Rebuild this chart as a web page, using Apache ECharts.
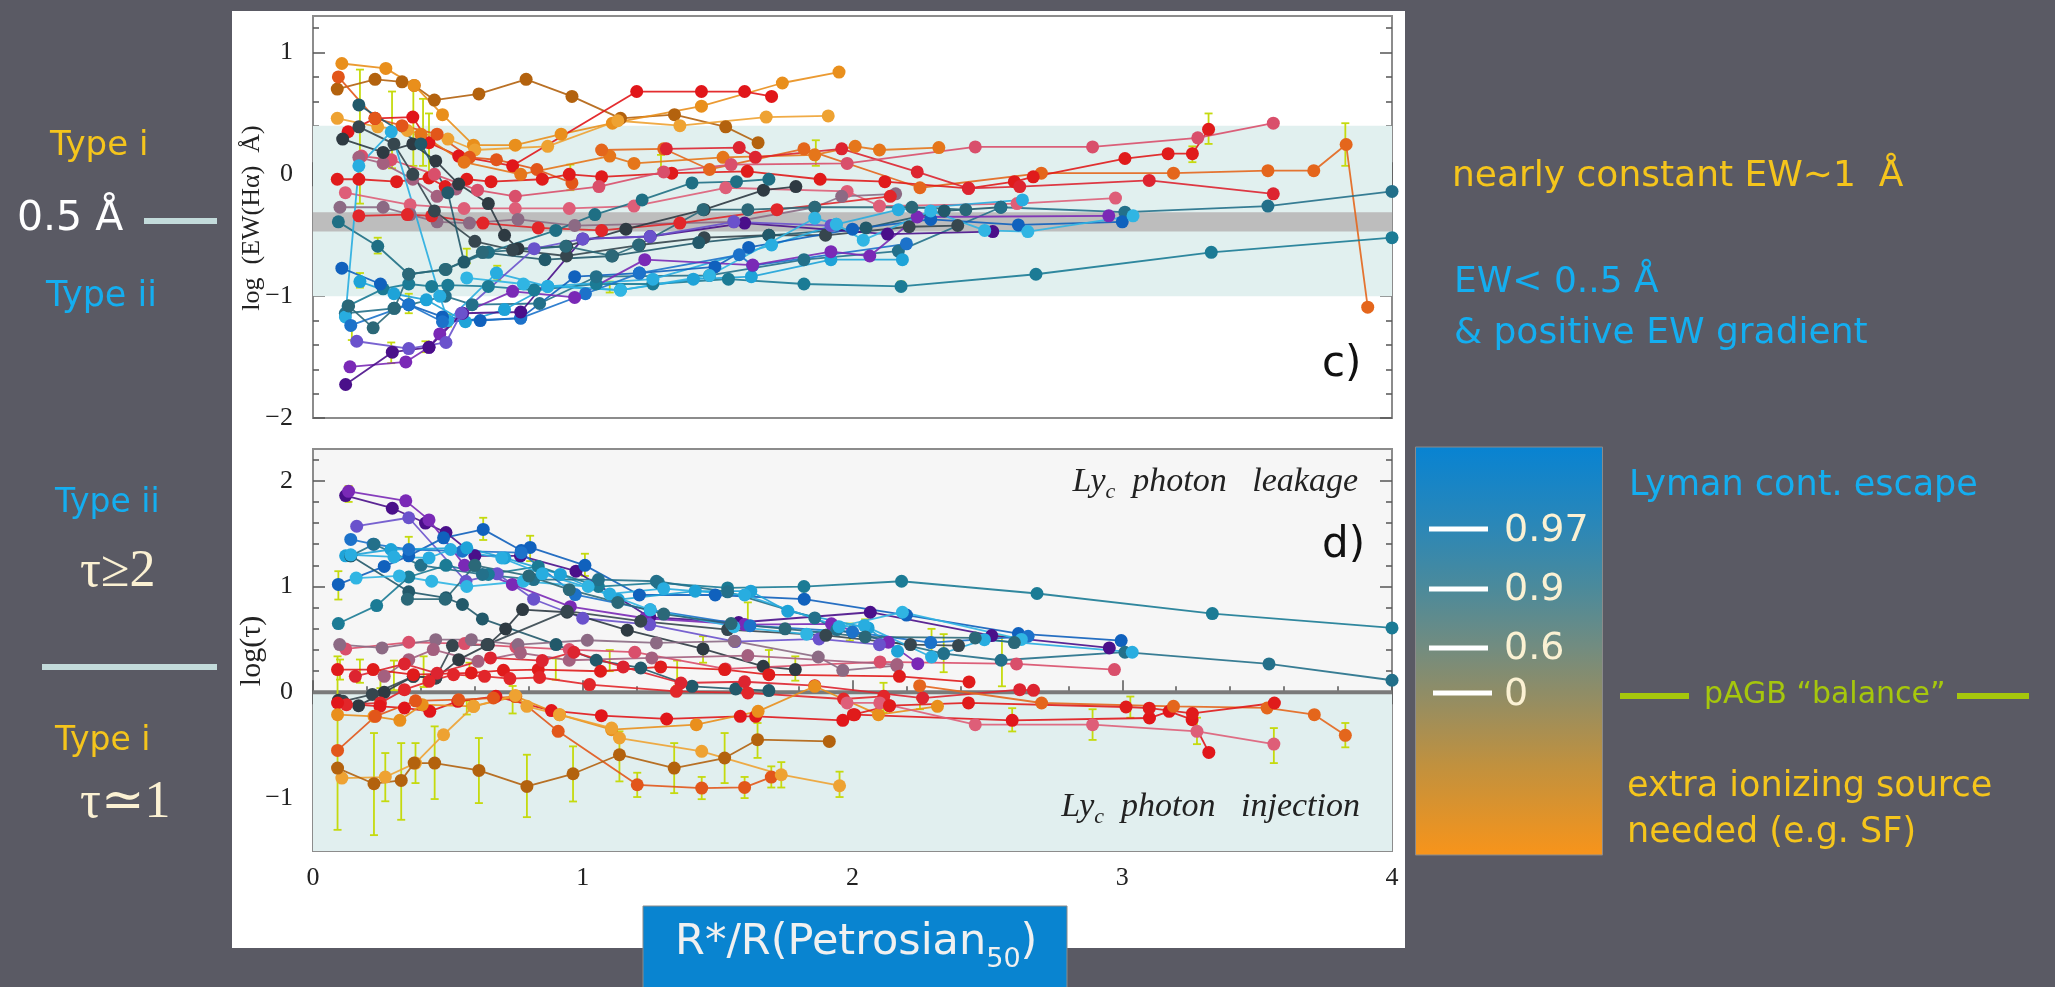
<!DOCTYPE html>
<html><head><meta charset="utf-8">
<script src="https://cdn.jsdelivr.net/npm/echarts@6/dist/echarts.min.js"></script>
<style>html,body{margin:0;padding:0;background:#5a5a64;overflow:hidden}#c{width:2055px;height:987px}</style>
</head><body><div id="c"></div>
<script>
// ---------------- DATA ----------------
// x: R*/R(Petrosian50); panel c) y: log EW(Halpha) ; panel d) y: log(tau)
const xTicks = [0, 1, 2, 3, 4];
const ewTicks = [-2, -1, 0, 1];
const tauTicks = [-1, 0, 1, 2];
const ewBands = [[0.4, -1.0], [-0.31, -0.47]];     // [top, bottom]
const tauBands = [[0, -1.5]];
const tauZero = [0];

const ew01 = [[0.09,0.70],[0.23,0.78],[0.33,0.76],[0.375,0.73],[0.45,0.61],[0.615,0.66],[0.79,0.78],[0.96,0.64],[1.14,0.46],[1.34,0.49],[1.53,0.39],[1.65,0.26]];
const ew02 = [[0.107,0.91],[0.27,0.87],[0.375,0.73],[0.48,0.49],[0.595,0.24],[0.75,0.24],[0.92,0.33],[1.11,0.42],[1.44,0.56],[1.74,0.75],[1.95,0.84]];
const ew03 = [[0.09,0.46],[0.24,0.39],[0.35,0.36],[0.50,0.29],[0.60,0.20],[0.87,0.23],[1.13,0.44],[1.36,0.40],[1.68,0.47],[1.91,0.48]];
const ew04 = [[0.13,0.35],[0.23,0.46],[0.37,0.47],[0.43,0.26],[0.54,0.15],[0.74,0.07],[1.20,0.68],[1.44,0.68],[1.60,0.68],[1.70,0.64]];
const ew05 = [[0.094,0.80],[0.23,0.46],[0.33,0.40],[0.46,0.33],[0.58,0.14],[0.68,0.12],[0.83,0.04],[0.96,-0.07]];
const ew06 = [[0.40,0.33],[0.56,0.10],[0.77,0.00],[1.10,0.15],[1.19,0.09],[1.52,0.14],[1.86,0.16],[2.01,0.23],[2.10,0.20],[2.32,0.22]];
const ew07 = [[1.07,0.20],[1.30,0.21],[1.47,0.04],[1.82,0.21],[2.25,-0.11],[2.70,0.01],[3.19,0.01],[3.54,0.03],[3.71,0.03],[3.83,0.245],[3.91,-1.09]];
const ew08 = [[0.09,-0.04],[0.17,-0.04],[0.31,-0.06],[0.43,-0.03],[0.49,-0.10],[0.57,-0.04],[0.66,-0.06],[0.85,-0.04],[0.95,0.00],[1.07,-0.02],[1.33,0.01],[1.61,0.025],[1.88,-0.04],[2.12,-0.06],[2.43,-0.115],[2.60,-0.06],[2.67,-0.02],[3.01,0.13],[3.17,0.17],[3.26,0.17],[3.32,0.37]];
const ew09 = [[1.31,0.21],[1.58,0.22],[1.64,0.14],[1.96,0.21],[2.24,0.02],[2.43,-0.115],[2.62,-0.10],[3.10,-0.05],[3.56,-0.16]];
const ew10 = [[0.18,0.15],[0.29,0.12],[0.45,0.00],[0.61,-0.13],[0.75,-0.18],[1.06,-0.10],[1.30,0.02],[1.55,0.08],[1.98,0.09],[2.455,0.225],[2.89,0.225],[3.28,0.30],[3.56,0.42]];
const ew11 = [[0.12,-0.15],[0.36,-0.25],[0.56,-0.28],[0.75,-0.28],[0.95,-0.28],[1.19,-0.26],[1.53,-0.11],[1.98,-0.14],[2.10,-0.26],[2.61,-0.24],[2.975,-0.195]];
const ew12 = [[0.10,-0.27],[0.26,-0.27],[0.36,-0.33],[0.46,-0.39],[0.58,-0.40],[0.76,-0.37],[0.97,-0.42],[1.56,-0.39],[1.86,-0.27],[1.96,-0.18],[2.16,-0.16]];
const ew13 = [[0.17,-0.34],[0.35,-0.33],[0.44,-0.34],[0.63,-0.40],[0.835,-0.44],[1.07,-0.46],[1.36,-0.40],[1.72,-0.29],[2.14,-0.18]];
const ew14 = [[0.17,0.14],[0.26,0.09],[0.37,-0.04],[0.46,-0.18],[0.53,-0.12]];
const ew15 = [[0.11,0.29],[0.26,0.18],[0.37,0.25],[0.455,0.11],[0.54,-0.08],[0.65,-0.24],[0.71,-0.50],[0.76,-0.61],[0.94,-0.59],[1.16,-0.45],[1.45,-0.29],[1.67,-0.13],[1.79,-0.10]];
const ew16 = [[0.17,0.39],[0.30,0.25],[0.37,0.00],[0.45,-0.30],[0.60,-0.55],[0.74,-0.62],[0.94,-0.67],[1.21,-0.58],[1.45,-0.52],[1.69,-0.50],[1.90,-0.50],[2.21,-0.43],[2.39,-0.42]];
const ew17 = [[0.17,0.57],[0.40,0.25],[0.50,-0.15],[0.56,-0.72],[0.63,-0.64],[0.86,-0.70],[1.11,-0.67],[1.43,-0.56],[1.69,-0.50],[2.05,-0.44],[2.34,-0.30],[2.55,-0.27]];
const ew18 = [[0.094,-0.39],[0.24,-0.59],[0.355,-0.82],[0.49,-0.78],[0.65,-0.64],[0.90,-0.46],[1.045,-0.33],[1.22,-0.21],[1.405,-0.07],[1.57,-0.06],[1.69,-0.04]];
const ew19 = [[0.13,-1.08],[0.26,-0.94],[0.355,-0.90],[0.44,-0.92],[0.50,-0.91],[0.65,-0.92],[0.82,-0.95],[1.05,-0.90],[1.26,-0.90],[1.54,-0.86],[1.82,-0.90],[2.18,-0.92],[2.68,-0.82],[3.33,-0.64],[4.0,-0.52]];
const ew20 = [[0.12,-1.14],[0.30,-1.10],[0.49,-1.00],[0.59,-1.07],[0.84,-1.06],[1.05,-0.84],[1.47,-0.83],[1.82,-0.70],[2.17,-0.63],[2.55,-0.27],[3.01,-0.31],[3.54,-0.26],[4.0,-0.14]];
const ew21 = [[0.174,-0.88],[0.30,-0.98],[0.42,-1.03],[0.565,-1.21],[0.71,-1.11],[0.87,-0.92],[1.14,-0.95],[1.41,-0.86],[1.625,-0.84],[1.92,-0.70],[2.185,-0.70]];
const ew22 = [[0.12,-1.17],[0.17,0.07],[0.29,0.35],[0.47,-1.0],[0.50,-1.20],[0.68,-0.81],[0.87,-0.92],[1.26,-0.86],[1.70,-0.58],[1.94,-0.41],[2.17,-0.29],[2.63,-0.21]];
const ew23 = [[0.107,-0.77],[0.25,-0.90],[0.355,-1.07],[0.48,-1.17],[0.62,-1.20],[0.77,-1.18],[0.97,-0.84],[1.21,-0.81],[1.49,-0.76],[1.615,-0.60],[2.0,-0.45],[2.29,-0.37],[2.615,-0.415],[3.0,-0.39]];
const ew24 = [[0.14,-1.24],[0.355,-1.07],[0.48,-1.21],[0.77,-1.18],[1.01,-0.98],[1.21,-0.81],[1.58,-0.66],[1.63,-0.75],[2.20,-0.57]];
const ew25 = [[0.137,-1.58],[0.344,-1.54],[0.43,-1.42],[0.47,-1.31],[0.554,-1.14],[0.74,-0.96],[0.97,-1.01],[1.23,-0.70],[1.63,-0.745],[1.92,-0.635],[2.064,-0.67],[2.24,-0.35],[2.95,-0.34]];
const ew26 = [[0.121,-1.725],[0.294,-1.46],[0.43,-1.42],[0.554,-1.14],[0.77,-1.13],[1.00,-0.53],[1.25,-0.51],[1.60,-0.40],[2.13,-0.49],[2.52,-0.47]];
const ew27 = [[0.162,-1.37],[0.355,-1.43],[0.493,-1.38],[0.55,-1.14],[0.82,-0.61],[1.00,-0.53],[1.25,-0.51],[1.56,-0.39],[1.92,-0.42]];
const ew28 = [[0.132,-1.08],[0.223,-1.26],[0.302,-1.10],[0.355,-0.82],[0.493,-0.78],[0.628,-0.64],[0.937,-0.59],[1.107,-0.67],[1.207,-0.58],[1.446,-0.29],[1.612,-0.29],[1.86,-0.27],[2.22,-0.27],[2.42,-0.29]];
const ew29 = [[0.57,-0.85],[0.78,-0.90],[1.14,-0.95],[1.47,-0.83],[1.86,-0.36],[1.94,-0.41],[2.04,-0.54],[2.29,-0.30],[2.49,-0.46],[2.65,-0.47],[3.04,-0.34]];

const ewErr = [[0.174,-0.24,0.86],[0.293,0.05,0.68],[0.372,0.07,0.72],[0.408,0.07,0.62],[0.43,0.01,0.50],[0.355,-1.14,-0.98],[0.24,-0.65,-0.52],[0.174,-0.93,-0.81],[0.144,-1.36,-1.21],[0.29,-1.55,-1.38],[0.417,-1.46,-1.37],[0.683,-0.87,-0.75],[0.57,-0.73,-0.61],[0.954,-0.13,0.08],[1.29,0.04,0.16],[1.864,0.07,0.28],[3.32,0.25,0.50],[3.827,0.07,0.42],[3.26,0.10,0.23],[0.50,-1.25,-1.15],[1.10,-0.97,-0.88],[2.18,-0.95,-0.88]];

const tau01 = [[0.121,1.86],[0.294,1.74],[0.417,1.60],[0.493,1.51],[0.60,1.29],[0.769,1.29],[0.975,1.145],[1.248,0.71],[1.578,0.66],[2.066,0.757],[2.516,0.536],[2.952,0.42]];
const tau02 = [[0.132,1.90],[0.344,1.81],[0.43,1.63],[0.562,1.20],[0.739,1.02],[0.954,0.81],[1.231,0.70],[1.60,0.64],[1.922,0.647],[2.133,0.473],[2.242,0.271]];
const tau03 = [[0.162,1.57],[0.355,1.65],[0.567,1.05],[0.683,1.12],[0.818,0.88],[1.0,0.70],[1.248,0.64],[1.565,0.48],[1.876,0.505],[2.10,0.45]];
const tau04 = [[0.094,1.02],[0.264,1.19],[0.355,1.29],[0.484,1.46],[0.631,1.54],[0.772,1.34],[0.805,1.37],[1.008,1.20],[1.21,0.92],[1.491,0.92],[1.821,0.88],[2.20,0.73],[2.615,0.555],[2.996,0.489]];
const tau05 = [[0.14,1.445],[0.223,1.40],[0.355,1.35],[0.554,1.334],[0.772,1.32],[0.972,0.924],[1.25,0.78],[1.62,0.63],[2.0,0.57],[2.29,0.47],[2.651,0.53]];
const tau06 = [[0.121,1.29],[0.289,1.35],[0.57,1.366],[0.711,1.27],[0.917,1.114],[1.132,0.877],[1.417,0.956],[1.623,0.956],[1.76,0.767],[2.058,0.609],[2.167,0.388]];
const tau07 = [[0.094,0.65],[0.236,0.82],[0.355,1.09],[0.493,1.20],[0.65,1.114],[0.835,1.19],[1.058,1.00],[1.281,1.035],[1.537,0.987],[1.82,1.00],[2.182,1.05],[2.684,0.934],[3.334,0.744],[4.0,0.609]];
const tau08 = [[0.14,1.29],[0.226,1.40],[0.40,1.20],[0.628,1.114],[0.818,1.066],[1.058,1.066],[1.273,1.05],[1.537,0.95],[1.86,0.703],[1.942,0.593],[2.338,0.366],[2.551,0.303],[3.01,0.379],[3.544,0.268],[4.0,0.114]];
const tau09 = [[0.14,1.29],[0.355,0.95],[0.493,0.893],[0.554,0.83],[0.628,0.694],[0.901,0.451],[1.05,0.303],[1.215,0.23],[1.405,0.057],[1.567,0.032],[1.69,0.016]];
const tau10 = [[0.094,-0.076],[0.169,-0.126],[0.264,0.0],[0.372,0.151],[0.455,0.136],[0.54,0.309],[0.65,0.451],[0.714,0.599],[0.777,0.782],[0.942,0.757],[1.165,0.587],[1.446,0.41],[1.669,0.246],[1.788,0.215]];
const tau11 = [[0.111,-0.085],[0.22,-0.02],[0.372,0.151],[0.455,0.136],[0.517,0.442],[0.645,0.451],[0.942,0.767],[1.215,0.672],[1.537,0.593],[1.901,0.539],[2.215,0.451],[2.393,0.442]];
const tau12 = [[0.14,1.30],[0.30,1.28],[0.43,1.27],[0.51,1.35],[0.70,1.27],[0.85,1.12],[1.10,0.93],[1.30,0.98],[1.60,0.92],[1.95,0.62],[2.044,0.631],[2.293,0.334],[2.489,0.498],[3.037,0.379]];
const tau13 = [[0.16,1.08],[0.32,1.10],[0.44,1.05],[0.57,1.00],[0.78,1.05],[1.02,1.00],[1.25,0.78],[1.56,0.62],[1.83,0.55],[2.185,0.757],[2.626,0.50]];
const tau14 = [[0.35,0.88],[0.49,0.88],[0.60,1.20],[0.80,1.10],[0.95,0.97],[1.13,0.85],[1.30,0.74],[1.55,0.65],[1.75,0.60],[2.047,0.524],[2.455,0.514],[2.60,0.47]];
const tau15 = [[0.121,0.41],[0.355,0.473],[0.562,0.461],[0.752,0.429],[0.95,0.404],[1.193,0.379],[1.529,0.221],[2.102,0.287],[2.608,0.268],[2.971,0.215]];
const tau16 = [[0.099,0.451],[0.256,0.42],[0.455,0.498],[0.587,0.498],[0.76,0.451],[1.017,0.492],[1.273,0.467],[1.562,0.483],[1.873,0.334],[1.964,0.208],[2.164,0.252]];
const tau17 = [[0.264,0.151],[0.355,0.309],[0.446,0.404],[0.612,0.293],[0.769,0.372],[0.95,0.303],[1.256,0.325],[1.612,0.347],[2.165,0.262]];
const tau18 = [[0.091,0.215],[0.223,0.215],[0.372,0.167],[0.587,0.183],[0.706,0.208],[0.835,0.215],[1.066,0.199],[1.289,0.24],[1.526,0.215],[1.69,0.167],[2.174,0.151],[2.432,0.098]];
const tau19 = [[0.157,0.151],[0.339,0.268],[0.46,0.18],[0.658,0.325],[0.85,0.30],[0.967,0.379],[1.15,0.24],[1.364,0.088],[1.60,0.10],[1.86,0.063],[2.26,-0.054],[2.62,0.025],[2.671,0.019]];
const tau20 = [[0.124,-0.117],[0.25,-0.10],[0.339,0.025],[0.43,0.104],[0.521,0.167],[0.636,0.151],[0.73,0.13],[0.84,0.14],[1.025,0.073],[1.347,0.009],[1.612,-0.006],[1.967,-0.063],[2.116,-0.038],[2.137,-0.126]];
const tau21 = [[0.091,-0.101],[0.248,-0.132],[0.339,-0.148],[0.433,-0.18],[0.537,-0.085],[0.678,-0.038],[0.884,-0.173],[1.069,-0.221],[1.311,-0.252],[1.584,-0.227],[1.641,-0.227],[1.964,-0.265],[2.008,-0.211],[2.592,-0.265],[3.101,-0.243],[3.174,-0.18],[3.259,-0.259],[3.321,-0.568]];
const tau22 = [[0.091,-0.211],[0.226,-0.227],[0.322,-0.265],[0.405,-0.117],[0.595,-0.132],[0.752,-0.038],[0.914,-0.211],[1.107,-0.353],[1.421,-0.306],[1.65,-0.18],[1.86,0.057],[2.096,-0.211],[2.315,-0.132]];
const tau23 = [[0.091,-0.549],[0.231,-0.227],[0.38,-0.08],[0.54,-0.07],[0.669,-0.054],[0.75,-0.04],[0.909,-0.369],[1.202,-0.874],[1.441,-0.905],[1.60,-0.899],[1.699,-0.801]];
const tau24 = [[0.107,-0.811],[0.268,-0.801],[0.38,-0.669],[0.484,-0.401],[0.595,-0.132],[0.75,-0.03],[0.793,-0.132],[0.914,-0.211],[1.107,-0.338],[1.136,-0.432],[1.441,-0.558],[1.736,-0.779],[1.952,-0.883]];
const tau25 = [[0.091,-0.716],[0.226,-0.864],[0.327,-0.833],[0.375,-0.669],[0.451,-0.669],[0.615,-0.738],[0.793,-0.89],[0.964,-0.77],[1.136,-0.59],[1.339,-0.716],[1.526,-0.621],[1.648,-0.448],[1.914,-0.464]];
const tau26 = [[2.249,0.063],[2.701,-0.101],[3.19,-0.132],[3.537,-0.148],[3.712,-0.211],[3.827,-0.407]];
const tau27 = [[1.98,-0.10],[2.101,-0.10],[2.455,-0.306],[2.89,-0.306],[3.277,-0.369],[3.562,-0.489]];
const tau28 = [[2.003,-0.211],[2.137,-0.126],[2.43,-0.10],[3.014,-0.139],[3.10,-0.15],[3.26,-0.20],[3.564,-0.101]];

const tauErr = [[0.091,-1.30,0.34],[0.226,-1.35,-0.385],[0.268,-1.03,-0.574],[0.327,-1.205,-0.48],[0.38,-0.858,-0.48],[0.451,-1.009,-0.322],[0.615,-1.047,-0.432],[0.793,-1.18,-0.59],[0.964,-1.032,-0.511],[1.136,-0.842,-0.369],[1.339,-0.953,-0.48],[1.526,-0.858,-0.385],[1.648,-0.62,-0.29],[1.202,-0.99,-0.76],[1.441,-1.01,-0.80],[1.60,-1.00,-0.80],[1.699,-0.90,-0.70],[1.736,-0.90,-0.66],[1.952,-0.99,-0.75],[0.094,0.877,1.145],[0.132,1.80,1.95],[0.631,1.44,1.65],[0.805,1.24,1.48],[1.008,1.10,1.31],[0.355,1.25,1.47],[0.174,0.09,0.31],[0.10,0.12,0.31],[0.41,0.05,0.34],[0.57,-0.21,-0.08],[0.74,-0.20,0.06],[1.446,0.28,0.53],[1.612,0.65,0.85],[1.788,0.11,0.34],[1.69,0.15,0.40],[1.99,0.49,0.65],[2.554,0.057,0.53],[2.293,0.34,0.60],[2.338,0.19,0.55],[2.047,0.50,0.69],[2.115,-0.19,0.09],[2.25,-0.16,-0.06],[3.277,-0.49,-0.24],[3.562,-0.669,-0.338],[3.827,-0.52,-0.29],[2.592,-0.37,-0.15],[2.89,-0.45,-0.16],[3.03,-0.24,-0.04],[3.259,-0.29,-0.20],[0.25,0.04,0.21],[0.30,0.02,0.30],[0.58,0.15,0.28],[0.90,0.12,0.32],[1.10,0.20,0.40],[1.35,0.06,0.30]];

const colorbarTicks = ['0.97', '0.9', '0.6', '0'];

// ---------------- STYLES ----------------
const ewTracks = [ew01,ew02,ew03,ew04,ew05,ew06,ew07,ew08,ew09,ew10,ew11,ew12,ew13,ew14,ew15,ew16,ew17,ew18,ew19,ew20,ew21,ew22,ew23,ew24,ew25,ew26,ew27,ew28,ew29];
const ewColors = ['#b3620e','#e98f1c','#eea232','#e1161a','#e2561a','#e5761a','#e4661c','#e01b1b','#dd2430','#d94f6b','#de5e78','#8c6a84','#e2262a','#a4607f','#2e3a42','#36464e','#22596a','#1f6f84','#1b7b95','#23708a','#1ea3d8','#28ade0','#1061bd','#1c72ca','#7a29b6','#4a0f8a','#6a52cc','#2b6878','#30b5e3'];
const tauTracks = [tau01,tau02,tau03,tau04,tau05,tau06,tau07,tau08,tau09,tau10,tau11,tau12,tau13,tau14,tau15,tau16,tau17,tau18,tau19,tau20,tau21,tau22,tau23,tau24,tau25,tau26,tau27,tau28];
const tauColors = ['#4a0f8a','#7a29b6','#6a52cc','#1061bd','#1c72ca','#1ea3d8','#1b7b95','#23708a','#22596a','#2e3a42','#36464e','#28ade0','#30b5e3','#2b6878','#d94f6b','#8c6a84','#a4607f','#e01b1b','#dd2430','#e2262a','#e1161a','#e98f1c','#e2561a','#eea232','#b3620e','#e4661c','#de5e78','#e01b1b'];

function minorVals(min, max) { const o=[]; for (let i=Math.ceil(min*5-1e-9); i<=Math.floor(max*5+1e-9); i++) if (i%5!==0) o.push(i/5); return o; }
const tickLine = {color:'#555', width:1.5};
const serif = "'Liberation Serif', 'DejaVu Serif', serif";
const sans = "'DejaVu Sans', sans-serif";

function xPair(g, labels) {
  const b = {type:'value', gridIndex:g, min:0, max:4, interval:1, splitLine:{show:false}, axisLine:{show:false},
    axisTick:{show:true, inside:true, length:12, lineStyle:tickLine},
    minorTick:{show:true, splitNumber:5, length:6, lineStyle:tickLine}, minorSplitLine:{show:false}};
  return [Object.assign({}, b, {position:'bottom', axisLabel:{show:labels, margin:14, fontFamily:serif, fontSize:26, color:'#222'}}),
          Object.assign({}, b, {position:'top', axisLabel:{show:false}})];
}
function yQuad(g, min, max, majors) {
  const c = {type:'value', gridIndex:g, min, max, splitLine:{show:false}, axisLine:{show:false}};
  const minors = minorVals(min, max);
  return [
    Object.assign({}, c, {position:'left', axisTick:{show:true, inside:true, length:12, customValues:majors, lineStyle:tickLine},
      axisLabel:{show:true, customValues:majors, margin:20, fontFamily:serif, fontSize:26, color:'#222', formatter:v => v<0 ? '\u2212'+Math.abs(v) : String(v)}}),
    Object.assign({}, c, {position:'left', axisTick:{show:true, inside:true, length:6, customValues:minors, lineStyle:tickLine}, axisLabel:{show:false}}),
    Object.assign({}, c, {position:'right', axisTick:{show:true, inside:true, length:12, customValues:majors, lineStyle:tickLine}, axisLabel:{show:false}}),
    Object.assign({}, c, {position:'right', axisTick:{show:true, inside:true, length:6, customValues:minors, lineStyle:tickLine}, axisLabel:{show:false}})
  ];
}

const errStroke = '#c5da0e';
function errItem(params, api) {
  const x = api.value(0), lo = api.value(1), hi = api.value(2);
  const a = api.coord([x, hi]), b = api.coord([x, lo]); const w = 4;
  const style = {stroke: errStroke, lineWidth: 1.8};
  return {type:'group', children:[
    {type:'line', shape:{x1:a[0],y1:a[1],x2:b[0],y2:b[1]}, style},
    {type:'line', shape:{x1:a[0]-w,y1:a[1],x2:a[0]+w,y2:a[1]}, style},
    {type:'line', shape:{x1:b[0]-w,y1:b[1],x2:b[0]+w,y2:b[1]}, style}]};
}
function bandSeries(xi, yi, bands, fills) {
  return {type:'custom', xAxisIndex:xi, yAxisIndex:yi, z:1, silent:true, animation:false, data:bands.map((b,i)=>[b[0],b[1],i]),
    renderItem:(p, api) => { const a = api.coord([0, api.value(0)]), b = api.coord([4, api.value(1)]);
      return {type:'rect', shape:{x:a[0], y:a[1], width:b[0]-a[0], height:b[1]-a[1]}, style:{fill:fills[api.value(2)]}}; }};
}
function trackSeries(tracks, colors, xi, yi) {
  return tracks.map((d,i) => ({type:'line', xAxisIndex:xi, yAxisIndex:yi, data:d, z:3, silent:true, animation:false,
    symbol:'circle', symbolSize:13, showSymbol:true, itemStyle:{color:colors[i]},
    lineStyle:{color:colors[i], width:1.8, opacity:0.9}}));
}

// ---------------- TEXT HELPERS ----------------
const mctx = document.createElement('canvas').getContext('2d');
function txt(t, x, y, size, color, family, extra) {
  return Object.assign({type:'text', z:100, silent:true, style:{text:t, x, y, font:(extra&&extra.fs||'')+' '+size+'px '+family,
    fill:color, textAlign:'left', align:'left', textVerticalAlign:'middle', verticalAlign:'middle'}}, extra&&extra.el||{});
}
function runs(x, y, parts, alignRight) {
  const out = []; let total = 0;
  for (const p of parts) { mctx.font = (p[5]||'')+' '+p[1]+'px '+p[3]; total += mctx.measureText(p[0]).width; }
  let cx = alignRight ? x - total : x;
  for (const p of parts) { const [t, size, color, family, dy, fs] = p; const font = (fs||'')+' '+size+'px '+family;
    mctx.font = font; out.push({type:'text', z:100, silent:true, style:{text:t, x:cx, y:y+(dy||0), font, fill:color, textAlign:'left', align:'left', textVerticalAlign:'middle', verticalAlign:'middle'}});
    cx += mctx.measureText(t).width; }
  return out;
}
function hline(x1, x2, y, color, w) { return {type:'line', z:100, silent:true, shape:{x1, y1:y, x2, y2:y}, style:{stroke:color, lineWidth:w}}; }

const yellow = '#f5c51c', blue = '#14aef0', cream = '#fbf1d3', green = '#a6c70c', pale = '#c3dbdb';
const graphics = [
  // left annotations
  txt('Type i', 50, 146, 34, yellow, sans),
  txt('0.5 \u00c5', 17, 219, 41, '#ffffff', sans),
  hline(144, 217, 221, pale, 6),
  txt('Type ii', 46, 297, 35, blue, sans),
  txt('Type ii', 55, 503, 33, blue, sans),
  txt('\u03c4\u22652', 80, 572, 52, cream, serif),
  hline(42, 217, 667, pale, 6),
  txt('Type i', 55, 741, 33, yellow, sans),
  txt('\u03c4\u22431', 80, 803, 52, cream, serif),
  // right annotations
  txt('nearly constant EW\u223c1  \u00c5', 1452, 177, 36, yellow, sans),
  txt('EW< 0..5 \u00c5', 1454, 283, 36, blue, sans),
  txt('& positive EW gradient', 1454, 334, 36, blue, sans),
  // colour bar
  {type:'rect', z:90, silent:true, shape:{x:1415.5, y:447, width:187, height:408},
    style:{stroke:'#8a8a8a', lineWidth:1, fill:new echarts.graphic.LinearGradient(0,0,0,1,[
      {offset:0, color:'#0883d2'},{offset:0.19, color:'#2a87b8'},{offset:0.34, color:'#4a8a9c'},{offset:0.49, color:'#728c80'},
      {offset:0.6, color:'#8f8d67'},{offset:0.78, color:'#c1913e'},{offset:1, color:'#f8941a'}])}},
  hline(1429, 1488, 529, '#ffffff', 5), hline(1429, 1488, 589, '#ffffff', 5), hline(1429, 1488, 648, '#ffffff', 5), hline(1433, 1492, 693, '#ffffff', 5),
  txt(colorbarTicks[0], 1504, 531, 38, cream, sans),
  txt(colorbarTicks[1], 1504, 590, 38, cream, sans),
  txt(colorbarTicks[2], 1504, 649, 38, cream, sans),
  txt(colorbarTicks[3], 1504, 695, 38, cream, sans),
  txt('Lyman cont. escape', 1629, 486, 35, blue, sans),
  hline(1620, 1689, 696, green, 6), hline(1957, 2029, 696, green, 6),
  txt('pAGB \u201cbalance\u201d', 1704, 695, 30, green, sans),
  txt('extra ionizing source', 1627, 787, 35, yellow, sans),
  txt('needed (e.g. SF)', 1627, 833, 35, yellow, sans),
  // axis names
  {type:'text', z:100, silent:true, x:252, y:218, rotation:Math.PI/2, style:{text:'log  (EW(H\u03b1)  \u00c5)', x:0, y:0, font:'26px '+serif, fill:'#222', textAlign:'center', align:'center', textVerticalAlign:'middle', verticalAlign:'middle'}},
  {type:'text', z:100, silent:true, x:252, y:651, rotation:Math.PI/2, style:{text:'log(\u03c4)', x:0, y:0, font:'30px '+serif, fill:'#222', textAlign:'center', align:'center', textVerticalAlign:'middle', verticalAlign:'middle'}},
  // panel labels
  txt('c)', 1322, 365, 42, '#111', sans),
  txt('d)', 1322, 546, 42, '#111', sans),
  ...runs(1358, 482, [['Ly',34,'#222',serif,0,'italic'],['c',22,'#222',serif,10,'italic'],['  photon   leakage',34,'#222',serif,0,'italic']], true),
  ...runs(1360, 807, [['Ly',34,'#222',serif,0,'italic'],['c',22,'#222',serif,10,'italic'],['  photon   injection',34,'#222',serif,0,'italic']], true),
  // x-axis title box
  {type:'rect', z:95, silent:true, shape:{x:643, y:906, width:424, height:90}, style:{fill:'#0984d0', stroke:'#8a8a8a', lineWidth:1}},
  ...runs(675, 943, [['R*/R(Petrosian',43,'#f0f0f0',sans,0],['50',27,'#f0f0f0',sans,17],[')',43,'#f0f0f0',sans,0]])
];

const option = {
  backgroundColor:'#5a5a64',
  animation:false,
  grid:[
    {left:232, top:11, width:1173, height:937, show:true, backgroundColor:'#ffffff', borderWidth:0},
    {left:313, top:16, width:1079, height:402, show:true, backgroundColor:'#ffffff', borderColor:'#8c8c8c', borderWidth:2},
    {left:313, top:449, width:1079, height:402, show:true, backgroundColor:'#f6f6f6', borderColor:'#8c8c8c', borderWidth:2}
  ],
  xAxis:[{type:'value', gridIndex:0, show:false, min:0, max:1}, ...xPair(1,false), ...xPair(2,true)],
  yAxis:[{type:'value', gridIndex:0, show:false, min:0, max:1}, ...yQuad(1,-2,1.3,ewTicks), ...yQuad(2,-1.5,2.3,tauTicks)],
  graphic:{elements:graphics},
  series:[
    bandSeries(1, 1, ewBands, ['#e1f0ef', '#bdbdbd']),
    bandSeries(3, 5, tauBands, ['#e1efef']),
    {type:'custom', xAxisIndex:3, yAxisIndex:5, z:1.5, silent:true, animation:false, data:tauZero.map(v=>[v]),
      renderItem:(p, api) => { const a = api.coord([0, api.value(0)]), b = api.coord([4, api.value(0)]);
        return {type:'line', shape:{x1:a[0], y1:a[1], x2:b[0], y2:b[1]}, style:{stroke:'#7a7a7a', lineWidth:4}}; }},
    {type:'custom', xAxisIndex:1, yAxisIndex:1, z:2, silent:true, animation:false, data:ewErr, renderItem:errItem},
    {type:'custom', xAxisIndex:3, yAxisIndex:5, z:2, silent:true, animation:false, data:tauErr, renderItem:errItem},
    ...trackSeries(ewTracks, ewColors, 1, 1),
    ...trackSeries(tauTracks, tauColors, 3, 5)
  ]
};
const chart = echarts.init(document.getElementById('c'), null, {renderer:'canvas'});
chart.setOption(option);
</script>
</body></html>
